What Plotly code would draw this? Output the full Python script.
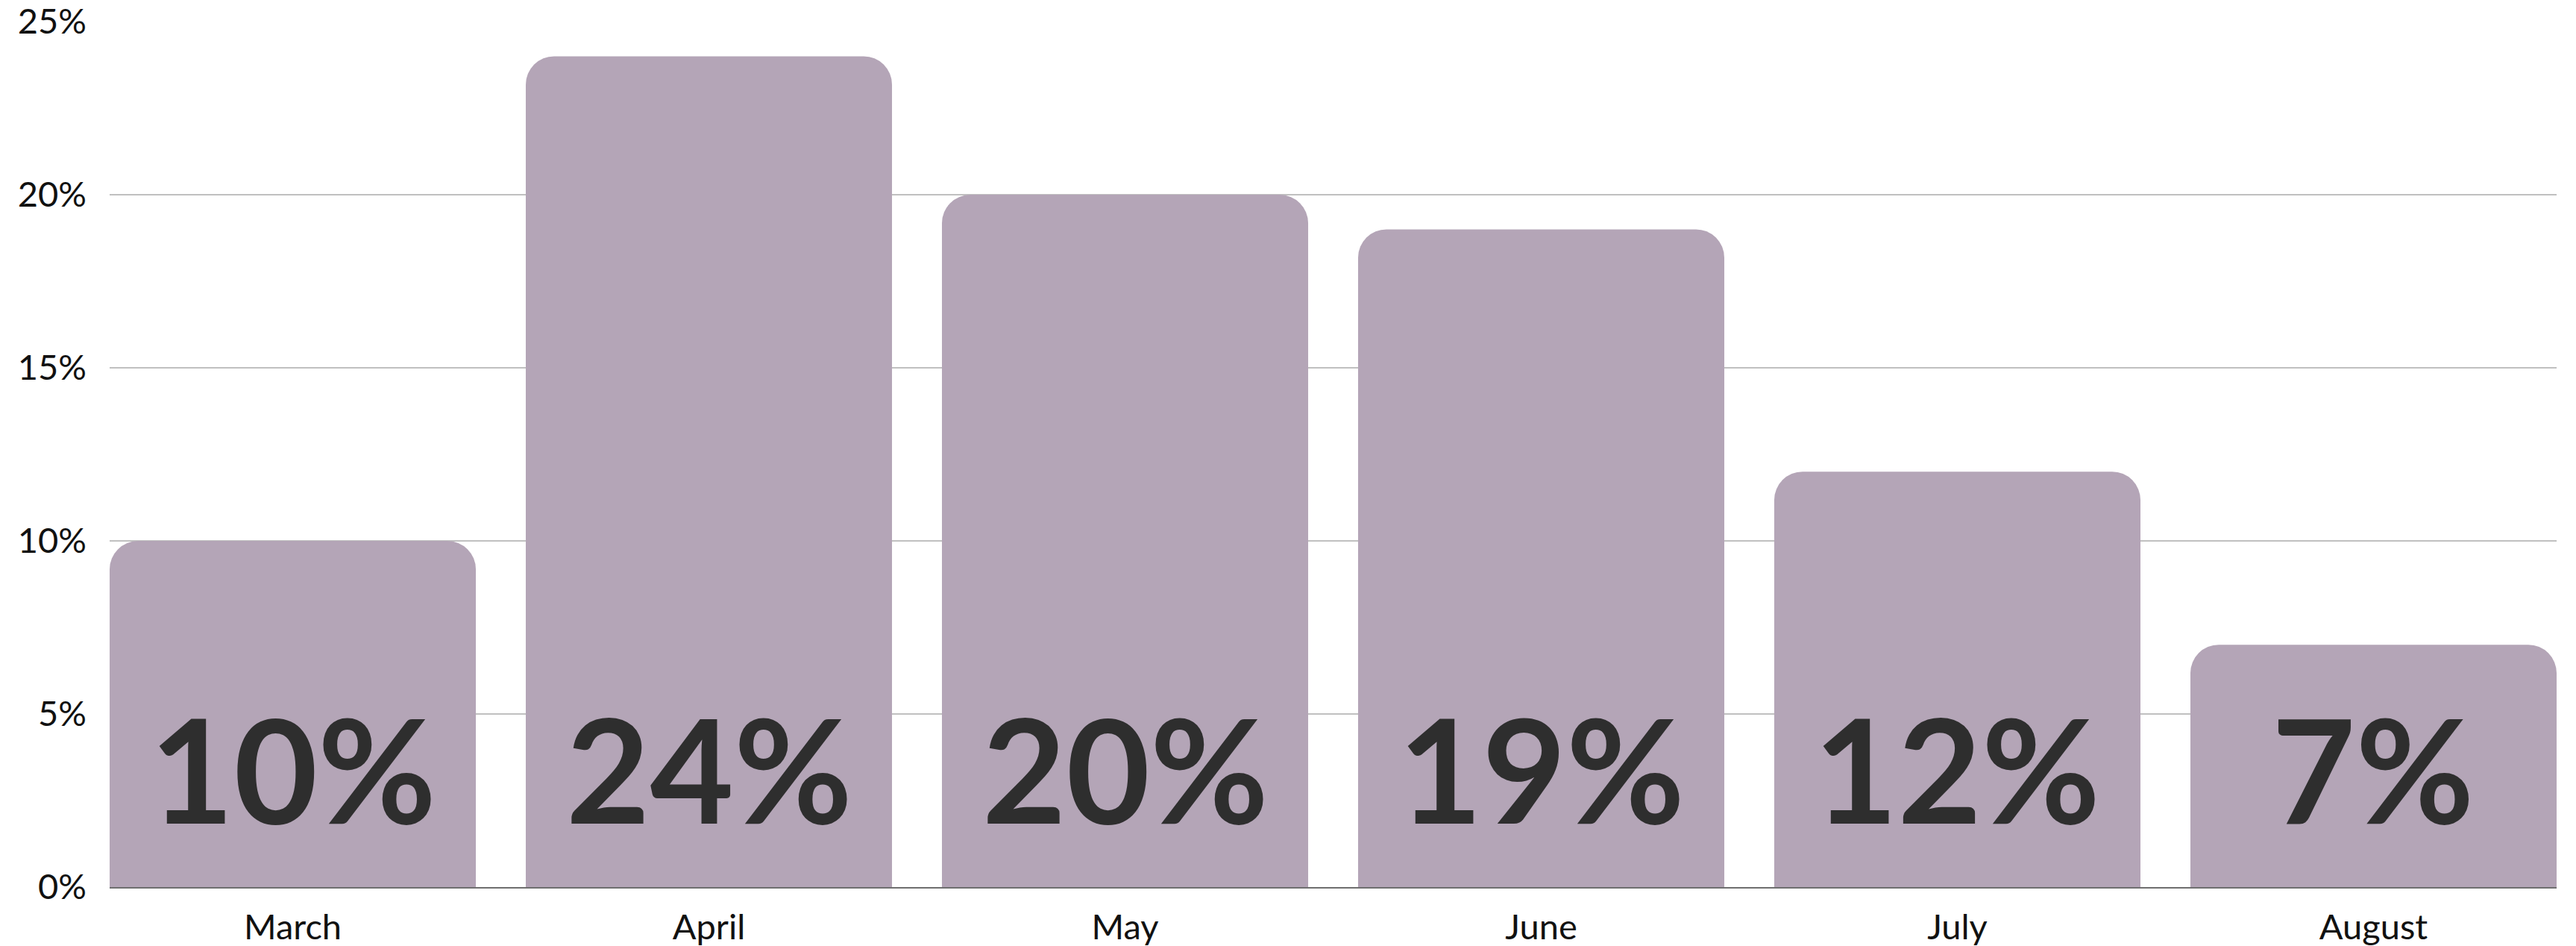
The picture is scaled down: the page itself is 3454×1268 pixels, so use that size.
import plotly.graph_objects as go

months = ["March", "April", "May", "June", "July", "August"]
shares = [10, 24, 20, 19, 12, 7]
y_ticks = [0, 5, 10, 15, 20, 25]
y_tick_labels = ["0%", "5%", "10%", "15%", "20%", "25%"]

BAR = "#B4A5B7"
LABEL = "#2E2E2E"

fig = go.Figure(go.Bar(
    x=months, y=shares,
    marker=dict(color=BAR, cornerradius=38, line=dict(width=0)),
    hoverinfo="skip",
))

for m, v in zip(months, shares):
    fig.add_annotation(x=m, y=3.45, xref="x", yref="y", text=f"<b>{v}%</b>",
                       showarrow=False, yanchor="middle", xanchor="center",
                       font=dict(family="Lato", size=194, color=LABEL))

# page body has an 8px default margin; size the figure to fit inside it
fig.update_layout(
    width=3438, height=1260,
    margin=dict(l=139, r=18, t=21, b=79),
    paper_bgcolor="white", plot_bgcolor="white",
    bargap=0.12,
    showlegend=False,
    font=dict(family="Lato", color="#111111"),
)
fig.update_xaxes(
    range=[-0.44, 5.44], showgrid=False, automargin=False,
    showline=True, linecolor="#6F6F6F", linewidth=2,
    tickfont=dict(family="Lato", size=47, color="#111111"),
    ticks="", ticklabelstandoff=12, ticklabeloverflow="allow",
)
fig.update_yaxes(
    range=[0, 25], tickvals=y_ticks, ticktext=y_tick_labels, automargin=False,
    showgrid=True, gridcolor="#C0C0C0", gridwidth=2,
    zeroline=False, showline=False,
    tickfont=dict(family="Lato", size=47, color="#111111"),
    ticks="", ticklabelstandoff=30, ticklabeloverflow="allow",
)

fig.write_html("out.html")
